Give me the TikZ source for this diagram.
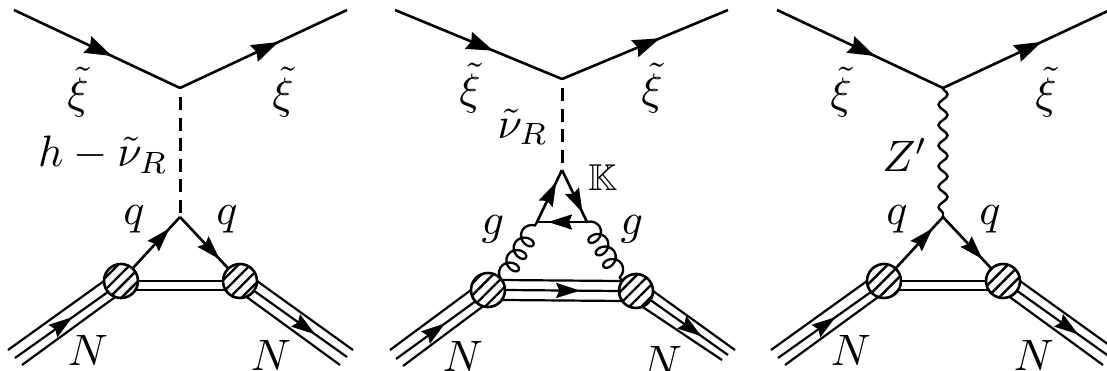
\documentclass[tikz,border=0pt]{standalone}
\usepackage{amssymb}
\usetikzlibrary{arrows.meta,decorations.markings,decorations.pathmorphing,patterns.meta}
\tikzset{
  lin/.style={line width=2.6pt},
  thin3/.style={line width=2.2pt},
  fer/.style={postaction={decorate},decoration={markings,mark=at position #1 with {\arrow{Stealth[length=27pt,width=18pt,inset=3pt]}}}},
  fersm/.style={postaction={decorate},decoration={markings,mark=at position #1 with {\arrow{Stealth[length=24pt,width=15pt,inset=3pt]}}}},
  scalar/.style={line width=3pt,dash pattern=on 13pt off 7.6pt,dash phase=-9pt},
  blob/.style={circle,draw,line width=2.6pt,minimum size=34pt,inner sep=0pt,outer sep=0pt,
    pattern={Lines[angle=45,distance=8.5pt,line width=2.4pt]}},
  lbl/.style={scale=4.4,inner sep=0pt},
  wig/.style={line width=2.4pt,decorate,decoration={snake,segment length=20.5pt,amplitude=4.5pt}},
  glu/.style={line width=2.3pt,decorate,decoration={coil,aspect=0.8,segment length=14.5pt,amplitude=8.5pt}}
}
\newcommand{\hadronA}{%
  \node[blob] (bl) at (121,281) {};
  \node[blob] (br) at (240,281) {};
  \coordinate (a1) at (8,350); \coordinate (a2) at (15,358); \coordinate (a3) at (22,365);
  \coordinate (b1) at (353,350); \coordinate (b2) at (347,357); \coordinate (b3) at (340,365);
  \draw[thin3] (a1) -- (bl.180);
  \draw[thin3,fersm=0.62] (a2) -- (bl.220);
  \draw[thin3] (a3) -- (bl.250);
  \draw[thin3] (br.0) -- (b1);
  \draw[thin3,fersm=0.66] (br.-35) -- (b2);
  \draw[thin3] (br.-68) -- (b3);
  \draw[thin3] (bl.0) -- (br.180);
  \draw[thin3] (bl.-33) -- (br.213);
  \draw[lin,fersm=0.78] (bl) -- (v2);
  \draw[lin,fersm=0.82] (v2) -- (br);
  \node[lbl] (q1) at (134,219) {$q$};
  \node[lbl] (q2) at (227,219) {$q$};
  \node[lbl] (n1) at (88,350) {$N$};
  \node[lbl] (n2) at (271,355) {$N$};
}
\newcommand{\topA}{%
  \coordinate (t1) at (14,10); \coordinate (v1) at (180,88); \coordinate (t2) at (347,10);
  \coordinate (v2) at (180,217);
  \draw[lin,fer=0.59] (t1) -- (v1);
  \draw[lin,fer=0.59] (v1) -- (t2);
  \node[lbl] (x1) at (78,92) {$\tilde\xi$};
  \node[lbl] (x2) at (283,92) {$\tilde\xi$};
}
\begin{document}
\begin{tikzpicture}[x=1pt,y=-1pt]
\clip (0,0) rectangle (1107,371);
% panel 1
\begin{scope}
  \topA
  \draw[scalar] (v1) -- (v2);
  \hadronA
  \node[lbl] (m1) at (103,155) {$h-\tilde\nu_R$};
\end{scope}
% panel 2
\coordinate (pt1) at (395,10); \coordinate (pv1) at (562,79); \coordinate (pt2) at (728,10);
\coordinate (pv2) at (562,170); \coordinate (pc1) at (537,222); \coordinate (pc2) at (587,222);
\draw[lin,fer=0.59] (pt1) -- (pv1);
\draw[lin,fer=0.59] (pv1) -- (pt2);
\draw[scalar] (pv1) -- (pv2);
\draw[lin,fersm=0.77] (pc1) -- (pv2);
\draw[lin,fersm=0.82] (pv2) -- (pc2);
\draw[lin,fersm=0.78] (pc2) -- (pc1);
\node[blob] (pbl) at (488,290) {};
\node[blob] (pbr) at (636,291) {};
\coordinate (pa1) at (390,350); \coordinate (pa2) at (396,359); \coordinate (pa3) at (403,366);
\coordinate (pb1) at (735,350); \coordinate (pb2) at (728,355); \coordinate (pb3) at (722,360);
\draw[thin3] (pa1) -- (pbl.180);
\draw[thin3,fersm=0.62] (pa2) -- (pbl.222);
\draw[thin3] (pa3) -- (pbl.253);
\draw[thin3] (pbr.0) -- (pb1);
\draw[thin3,fersm=0.66] (pbr.-32) -- (pb2);
\draw[thin3] (pbr.-68) -- (pb3);
\draw[thin3] (pbl.36) -- (pbr.144);
\draw[thin3,fersm=0.66] (pbl.0) -- (pbr.180);
\draw[thin3] (pbl.-36) -- (pbr.-144);
\draw[glu] (pbl.32) -- (pc1);
\draw[glu] (pc2) -- (pbr.145);
\node[lbl] (px1) at (470,88) {$\tilde\xi$};
\node[lbl] (px2) at (652,88) {$\tilde\xi$};
\node[lbl] (pm1) at (523,127) {$\tilde\nu_R$};
\node[lbl,scale=0.85] (pk) at (603,178) {$\mathbb{K}$};
\node[lbl] (pg1) at (493,229) {$g$};
\node[lbl] (pg2) at (632,229) {$g$};
\node[lbl] (pn1) at (463,356) {$N$};
\node[lbl] (pn2) at (662,361) {$N$};
% panel 3
\begin{scope}[xshift=763pt]
  \topA
  \draw[wig] (v1) -- (v2);
  \hadronA
  \node[lbl] (m3) at (142,155) {$Z'$};
\end{scope}
\end{tikzpicture}
\end{document}
